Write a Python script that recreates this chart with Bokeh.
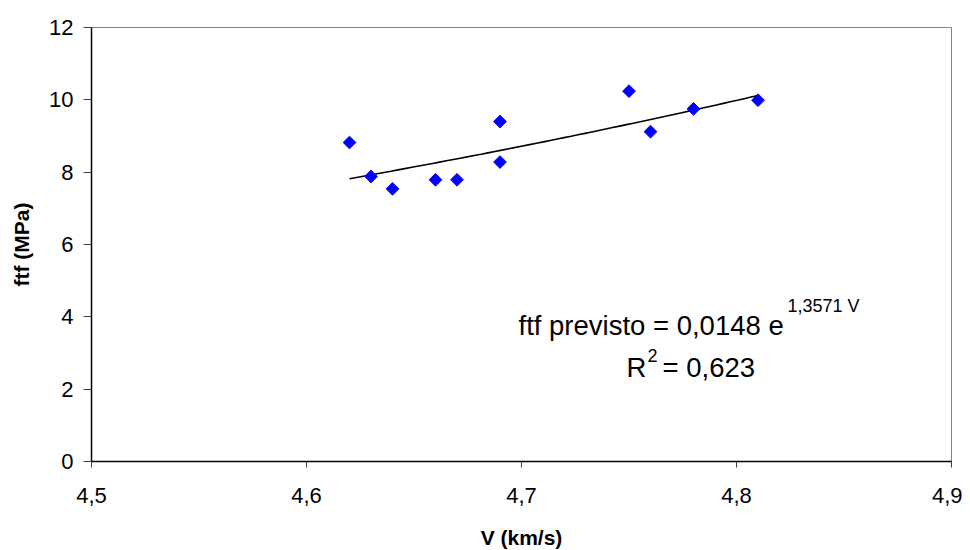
import numpy as np
from bokeh.plotting import figure
from bokeh.models import FixedTicker, CustomJSTickFormatter, Label, ColumnDataSource
from bokeh.embed import file_html
from bokeh.resources import INLINE

# Data
v_kms = [4.62, 4.63, 4.64, 4.66, 4.67, 4.69, 4.69, 4.75, 4.76, 4.78, 4.81]
ftf_mpa = [8.82, 7.88, 7.54, 7.79, 7.79, 9.40, 8.28, 10.24, 9.12, 9.75, 9.99]

# Exponential trend: ftf = a * exp(b V)
fit_a = 0.0148
fit_b = 1.3571
fit_range = [4.62, 4.81]

x_ticks = [4.5, 4.6, 4.7, 4.8, 4.9]
y_ticks = [0, 2, 4, 6, 8, 10, 12]

FONT = "Liberation Sans"

p = figure(output_backend="svg", toolbar_location=None,
           x_range=(4.5, 4.9), y_range=(0, 12),
           frame_width=860, frame_height=434,
           min_border_left=91, min_border_right=11, min_border_top=27, min_border_bottom=81)

p.background_fill_color = "white"
p.border_fill_color = "white"
p.outline_line_color = "#808080"
p.outline_line_width = 1
p.xgrid.visible = False
p.ygrid.visible = False

fmt_x = CustomJSTickFormatter(code="return tick.toFixed(1).replace('.', ',');")
fmt_y = CustomJSTickFormatter(code="return tick.toFixed(0);")

p.xaxis.ticker = FixedTicker(ticks=x_ticks)
p.yaxis.ticker = FixedTicker(ticks=y_ticks)
p.xaxis.formatter = fmt_x
p.yaxis.formatter = fmt_y
p.xaxis.minor_tick_line_color = None
p.yaxis.minor_tick_line_color = None

for ax in (p.xaxis, p.yaxis):
    ax.axis_line_color = "black"
    ax.axis_line_width = 1.5
    ax.major_tick_line_color = "#404040"
    ax.major_tick_in = 0
    ax.major_label_text_font = FONT
    ax.major_label_text_font_size = "22px"
    ax.major_label_text_color = "black"
    ax.axis_label_text_font = FONT
    ax.axis_label_text_font_size = "21px"
    ax.axis_label_text_font_style = "bold"
    ax.axis_label_text_color = "black"

p.xaxis.axis_label = "V (km/s)"
p.yaxis.axis_label = "ftf (MPa)"
p.xaxis.major_tick_out = 6
p.yaxis.major_tick_out = 8
p.xaxis.major_label_standoff = 20
p.xaxis.axis_label_standoff = 20
p.yaxis.major_label_standoff = 10
p.yaxis.axis_label_standoff = 13

# Trend line
xs = np.linspace(fit_range[0], fit_range[1], 60)
ys = fit_a * np.exp(fit_b * xs)
p.line(xs, ys, line_color="black", line_width=1.6)

# Points
src = ColumnDataSource(dict(x=v_kms, y=ftf_mpa))
p.scatter("x", "y", source=src, marker="square", angle=np.pi / 4, size=9,
          fill_color="#0000FF", line_color="#0000FF")

# Equation labels
BIG = "27.5px"
SMALL = "18px"
p.add_layout(Label(x=4.6986, y=3.76, text="ftf previsto = 0,0148 e", text_font=FONT,
                   text_font_size=BIG, text_color="black", text_baseline="alphabetic"))
p.add_layout(Label(x=4.8237, y=4.30, text="1,3571 V", text_font=FONT,
                   text_font_size=SMALL, text_color="black", text_baseline="alphabetic"))
p.add_layout(Label(x=4.7488, y=2.60, text="R", text_font=FONT,
                   text_font_size=BIG, text_color="black", text_baseline="alphabetic"))
p.add_layout(Label(x=4.7586, y=2.93, text="2", text_font=FONT,
                   text_font_size=SMALL, text_color="black", text_baseline="alphabetic"))
p.add_layout(Label(x=4.7656, y=2.60, text="= 0,623", text_font=FONT,
                   text_font_size=BIG, text_color="black", text_baseline="alphabetic"))

open("out.html", "w").write(file_html(p, INLINE))
